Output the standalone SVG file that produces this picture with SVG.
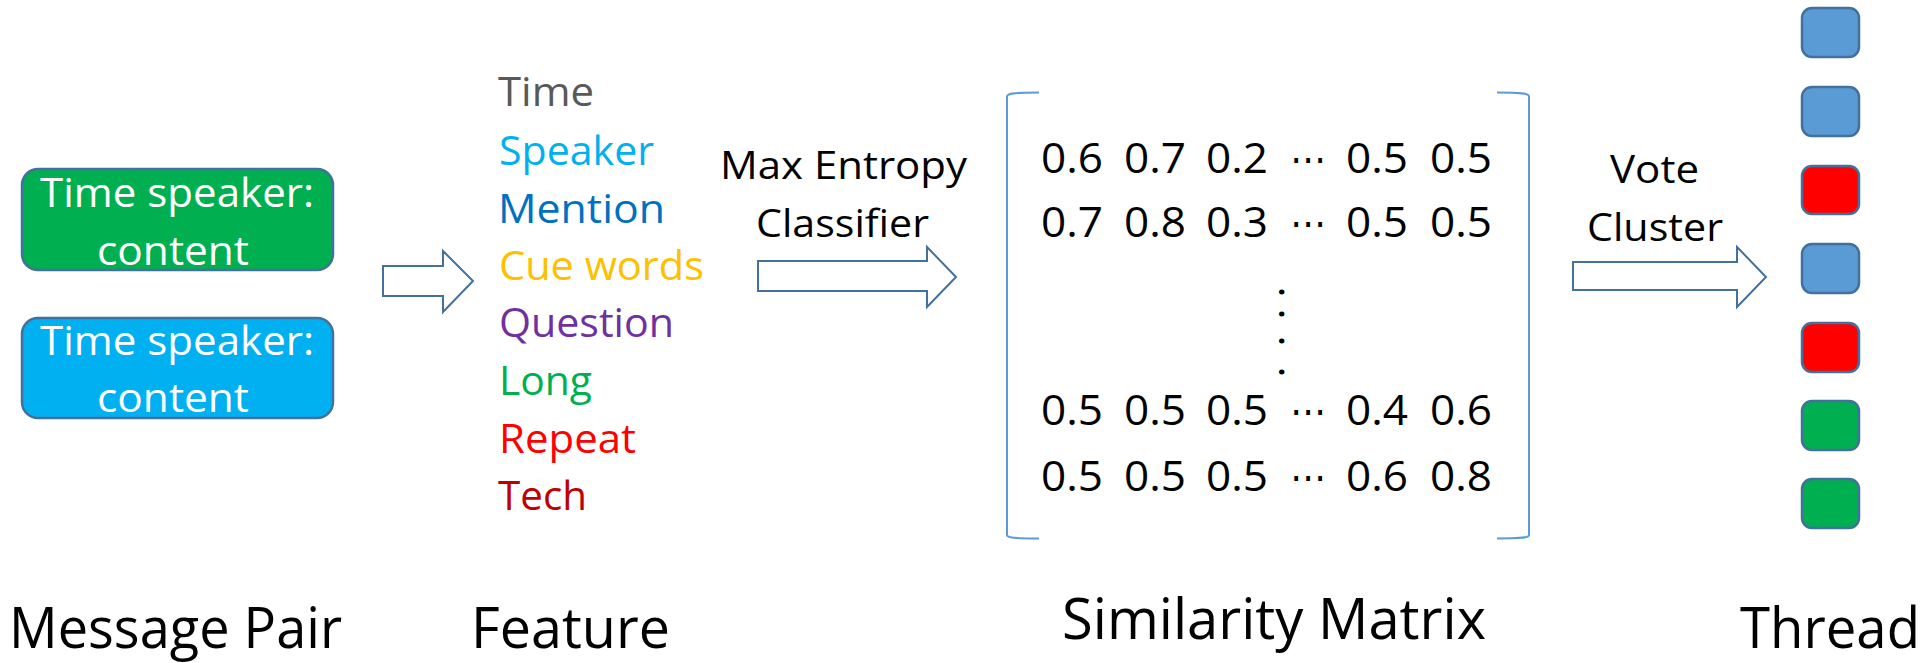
<svg xmlns="http://www.w3.org/2000/svg" width="1932" height="663" viewBox="0 0 1932 663">
  <style>
    text { font-family: "Open Sans", "Noto Sans", "DejaVu Sans", sans-serif; }
    .box { stroke: #41719C; stroke-width: 2.5; }
    .boxtxt { font-size: 41px; fill: #FFFFFF; }
    .feat { font-size: 41px; }
    .step { font-size: 39px; fill: #000000; }
    .label { font-size: 57px; fill: #000000; }
    .num { font-size: 42px; fill: #000000; }
    .ell { font-family: "DejaVu Sans", sans-serif; font-size: 40px; fill: #000000; }
    .vdots { font-size: 42px; fill: #000000; }
    .arrow { fill: #FFFFFF; stroke: #41719C; stroke-width: 2; stroke-linejoin: miter; }
    .bracket { fill: none; stroke: #5B9BD5; stroke-width: 2; }
    .cell { stroke: #41719C; stroke-width: 2.5; }
  </style>

  <!-- message pair -->
  <g id="message-a">
    <rect class="box" x="22" y="169" width="311" height="101" rx="16" fill="#00B050"/>
    <text class="boxtxt" x="40" y="207" textLength="274" lengthAdjust="spacingAndGlyphs">Time speaker:</text>
    <text class="boxtxt" x="97" y="265" textLength="152" lengthAdjust="spacingAndGlyphs">content</text>
  </g>
  <g id="message-b">
    <rect class="box" x="22" y="318" width="311" height="100" rx="16" fill="#00B0F0"/>
    <text class="boxtxt" x="40" y="355" textLength="274" lengthAdjust="spacingAndGlyphs">Time speaker:</text>
    <text class="boxtxt" x="97" y="412" textLength="152" lengthAdjust="spacingAndGlyphs">content</text>
  </g>
  <text id="label-message-pair" class="label" x="9" y="648" textLength="333" lengthAdjust="spacingAndGlyphs">Message Pair</text>

  <!-- feature list -->
  <g id="features">
    <text class="feat" x="498" y="106" fill="#595959" textLength="96" lengthAdjust="spacingAndGlyphs">Time</text>
    <text class="feat" x="499" y="165" fill="#00B0F0" textLength="155" lengthAdjust="spacingAndGlyphs">Speaker</text>
    <text class="feat" x="498" y="223" fill="#0070C0" textLength="167" lengthAdjust="spacingAndGlyphs">Mention</text>
    <text class="feat" x="499" y="280" fill="#FFC000" textLength="205" lengthAdjust="spacingAndGlyphs">Cue words</text>
    <text class="feat" x="499" y="337" fill="#7030A0" textLength="175" lengthAdjust="spacingAndGlyphs">Question</text>
    <text class="feat" x="499" y="395" fill="#00B050" textLength="93" lengthAdjust="spacingAndGlyphs">Long</text>
    <text class="feat" x="499" y="453" fill="#FF0000" textLength="137" lengthAdjust="spacingAndGlyphs">Repeat</text>
    <text class="feat" x="498" y="510" fill="#C00000" textLength="89" lengthAdjust="spacingAndGlyphs">Tech</text>
  </g>
  <text id="label-feature" class="label" x="471" y="648" textLength="199" lengthAdjust="spacingAndGlyphs">Feature</text>

  <!-- similarity matrix -->
  <g id="matrix">
    <path class="bracket" d="M1039,92.5 C1016,92.5 1007,93 1007,96.5 V535 C1007,538 1016,538.5 1039,538.5"/>
    <path class="bracket" d="M1497,92.5 C1520,92.5 1529,93 1529,96.5 V535 C1529,538 1520,538.5 1497,538.5"/>
    <g class="num">
      <text x="1041" y="173" textLength="62" lengthAdjust="spacingAndGlyphs">0.6</text>
      <text x="1124" y="173" textLength="62" lengthAdjust="spacingAndGlyphs">0.7</text>
      <text x="1206" y="173" textLength="62" lengthAdjust="spacingAndGlyphs">0.2</text>
      <text x="1346" y="173" textLength="62" lengthAdjust="spacingAndGlyphs">0.5</text>
      <text x="1430" y="173" textLength="62" lengthAdjust="spacingAndGlyphs">0.5</text>

      <text x="1041" y="237" textLength="62" lengthAdjust="spacingAndGlyphs">0.7</text>
      <text x="1124" y="237" textLength="62" lengthAdjust="spacingAndGlyphs">0.8</text>
      <text x="1206" y="237" textLength="62" lengthAdjust="spacingAndGlyphs">0.3</text>
      <text x="1346" y="237" textLength="62" lengthAdjust="spacingAndGlyphs">0.5</text>
      <text x="1430" y="237" textLength="62" lengthAdjust="spacingAndGlyphs">0.5</text>

      <text x="1041" y="425" textLength="62" lengthAdjust="spacingAndGlyphs">0.5</text>
      <text x="1124" y="425" textLength="62" lengthAdjust="spacingAndGlyphs">0.5</text>
      <text x="1206" y="425" textLength="62" lengthAdjust="spacingAndGlyphs">0.5</text>
      <text x="1346" y="425" textLength="62" lengthAdjust="spacingAndGlyphs">0.4</text>
      <text x="1430" y="425" textLength="62" lengthAdjust="spacingAndGlyphs">0.6</text>

      <text x="1041" y="491" textLength="62" lengthAdjust="spacingAndGlyphs">0.5</text>
      <text x="1124" y="491" textLength="62" lengthAdjust="spacingAndGlyphs">0.5</text>
      <text x="1206" y="491" textLength="62" lengthAdjust="spacingAndGlyphs">0.5</text>
      <text x="1346" y="491" textLength="62" lengthAdjust="spacingAndGlyphs">0.6</text>
      <text x="1430" y="491" textLength="62" lengthAdjust="spacingAndGlyphs">0.8</text>
    </g>
    <g class="ell">
      <text x="1290" y="173" textLength="36" lengthAdjust="spacingAndGlyphs">⋯</text>
      <text x="1290" y="237" textLength="36" lengthAdjust="spacingAndGlyphs">⋯</text>
      <text x="1290" y="425" textLength="36" lengthAdjust="spacingAndGlyphs">⋯</text>
      <text x="1290" y="491" textLength="36" lengthAdjust="spacingAndGlyphs">⋯</text>
    </g>
    <!-- vertical run of four dots, set along a rotated baseline -->
    <text class="vdots" transform="translate(1279,0) rotate(90)" x="286.5 308.5 335.5 366.5" y="0">....</text>
  </g>
  <text id="label-similarity" class="label" x="1062" y="639" textLength="424" lengthAdjust="spacingAndGlyphs">Similarity Matrix</text>

  <!-- thread -->
  <g id="thread">
    <rect class="cell" x="1802" y="8" width="57" height="49" rx="10" fill="#5B9BD5"/>
    <rect class="cell" x="1802" y="87" width="57" height="49" rx="10" fill="#5B9BD5"/>
    <rect class="cell" x="1802" y="166" width="57" height="48" rx="10" fill="#FF0000"/>
    <rect class="cell" x="1802" y="244" width="57" height="49" rx="10" fill="#5B9BD5"/>
    <rect class="cell" x="1802" y="323" width="57" height="49" rx="10" fill="#FF0000"/>
    <rect class="cell" x="1802" y="401" width="57" height="49" rx="10" fill="#00B050"/>
    <rect class="cell" x="1802" y="479" width="57" height="49" rx="10" fill="#00B050"/>
  </g>
  <text id="label-thread" class="label" x="1740" y="648" textLength="180" lengthAdjust="spacingAndGlyphs">Thread</text>

  <!-- connectors -->
  <g id="connectors">
    <path class="arrow" d="M383,266 H443 V251 L473,281 L443,312 V296 H383 Z"/>
    <path class="arrow" d="M758,261 H927 V247 L956,277 L927,307 V291 H758 Z"/>
    <path class="arrow" d="M1573,262 H1737 V247 L1766,277 L1737,307 V290 H1573 Z"/>
    <text class="step" x="720" y="179" textLength="247" lengthAdjust="spacingAndGlyphs">Max Entropy</text>
    <text class="step" x="756" y="237" textLength="173" lengthAdjust="spacingAndGlyphs">Classifier</text>
    <text class="step" x="1610" y="183" textLength="89" lengthAdjust="spacingAndGlyphs">Vote</text>
    <text class="step" x="1587" y="241" textLength="136" lengthAdjust="spacingAndGlyphs">Cluster</text>
  </g>
</svg>
